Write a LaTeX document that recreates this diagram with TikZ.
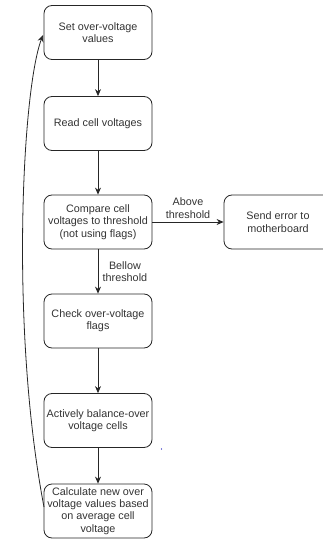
\documentclass[tikz,border=0pt]{standalone}
\usepackage{fontspec}
\setmainfont{Liberation Sans}
\usetikzlibrary{arrows.meta}
\begin{document}
\begin{tikzpicture}[x=1pt,y=-1pt,
  stepbox/.style={draw=black!85, line width=0.8pt, rounded corners=8pt,
    minimum width=108pt, minimum height=54pt, align=center,
    font=\fontsize{10.8}{12.4}\selectfont, text=black!80, inner sep=1pt},
  flow/.style={draw=black!85, line width=0.8pt, -{Stealth[length=7pt,width=6pt]}},
  lbl/.style={align=center, font=\fontsize{10.8}{12.4}\selectfont, text=black!80}]
\useasboundingbox (0,0) rectangle (322,540);
\node[stepbox] (set) at (98,32.5) {Set over-voltage\\values};
\node[stepbox] (read) at (98,123.5) {Read cell voltages};
\node[stepbox] (cmp) at (98,222) {Compare cell\\voltages to threshold\\(not using flags)};
\node[stepbox] (err) at (278,222) {Send error to\\motherboard};
\node[stepbox] (chk) at (98,321) {Check over-voltage\\flags};
\node[stepbox] (bal) at (98,420.5) {Actively balance-over\\voltage cells};
\node[stepbox] (calc) at (98,511) {Calculate new over\\voltage values based\\on average cell\\voltage};
\draw[flow] (set) -- (read);
\draw[flow] (read) -- (cmp);
\draw[flow] (cmp) -- (err) node[lbl, midway, above=0pt] {Above\\threshold};
\draw[flow] (cmp) -- (chk) node[lbl, midway, right=1pt] {Bellow\\threshold};
\draw[flow] (chk) -- (bal);
\draw[flow] (bal) -- (calc);
\coordinate (back) at (44,507);
\coordinate (top) at (43,35);
\draw[flow] (back) .. controls (10,330) and (22,90) .. (top);
\fill[blue!70!black] (161.5,449) circle (0.6pt);
\end{tikzpicture}
\end{document}
